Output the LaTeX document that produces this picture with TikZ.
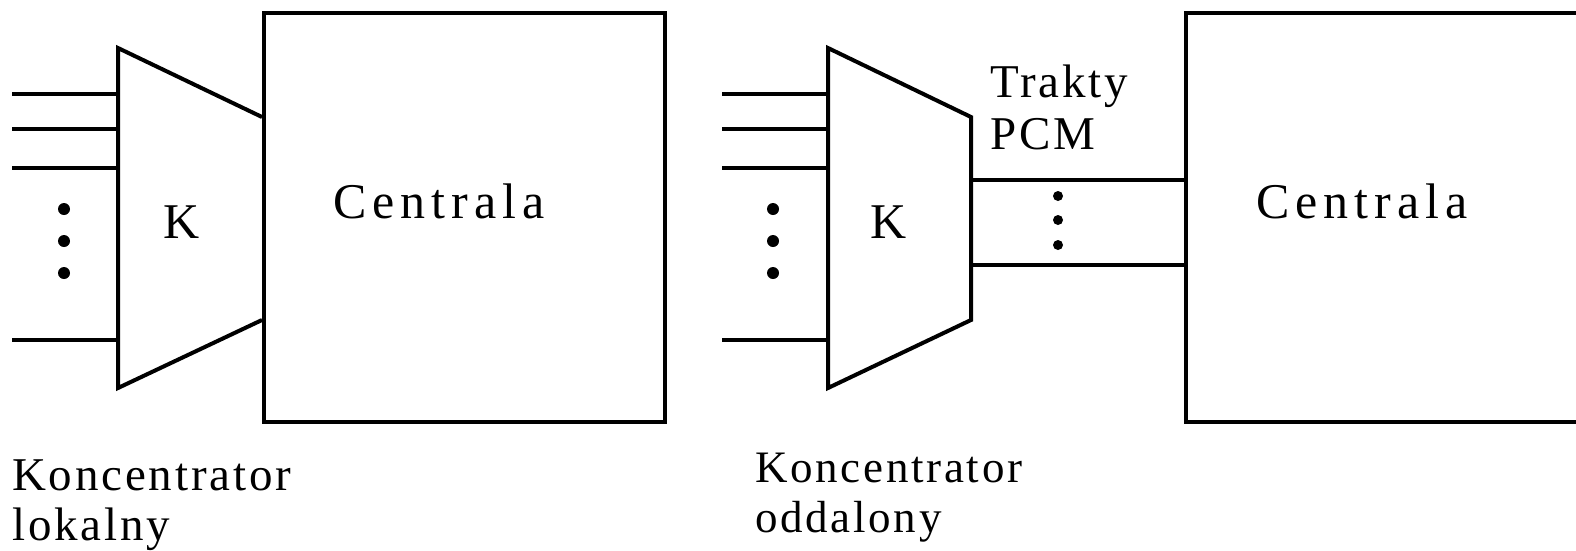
\documentclass[tikz,border=0pt]{standalone}
\usepackage{fontspec}
\setmainfont{Liberation Serif}[LetterSpace=6]
\tikzset{
  ln/.style={line width=4pt, line join=miter},
  lbl/.style={inner sep=0pt, anchor=base west},
  dotf/.style={circle, fill=black, inner sep=0pt, minimum size=12pt},
  big/.style={font=\fontsize{50}{50}\selectfont\addfontfeature{LetterSpace=12}},
}
\begin{document}
\begin{tikzpicture}[x=1pt,y=-1pt]
\useasboundingbox (0,0) rectangle (1576,550);
\begin{scope}
\clip (0,0) rectangle (1576,550);
% ---------- left ----------
\node[draw, ln, minimum width=401pt, minimum height=409pt, inner sep=0pt, anchor=north west] (boxL) at (262,11) {};
\coordinate (tLa) at (118,48);
\coordinate (tLb) at (262,117);
\coordinate (tLc) at (262,320);
\coordinate (tLd) at (118,388);
\draw[ln] (tLb) -- (tLa) -- (tLd) -- (tLc);
\foreach \y/\n in {94/1,129/2,168/3,340/4}{
  \coordinate (inL\n) at (12,\y);
  \coordinate (enL\n) at (118,\y);
  \draw[ln] (inL\n) -- (enL\n);
}
\node[dotf] (dL1) at (64,209) {};
\node[dotf] (dL2) at (64,241) {};
\node[dotf] (dL3) at (64,273) {};
\node[lbl, font=\fontsize{50}{50}\selectfont] (kL) at (163,238) {K};
\node[lbl, big] (cL) at (333,218) {Centrala};
\node[lbl, font=\fontsize{47}{47}\selectfont] (koL) at (12,490) {Koncentrator};
\node[lbl, font=\fontsize{47}{47}\selectfont] (loL) at (12,540) {lokalny};
% ---------- right ----------
\node[draw, ln, minimum width=420pt, minimum height=409pt, inner sep=0pt, anchor=north west] (boxR) at (1184,11) {};
\coordinate (tRa) at (828,48);
\coordinate (tRb) at (971,117);
\coordinate (tRc) at (971,320);
\coordinate (tRd) at (828,388);
\draw[ln] (tRa) -- (tRb) -- (tRc) -- (tRd) -- cycle;
\foreach \y/\n in {94/1,129/2,168/3,340/4}{
  \coordinate (inR\n) at (722,\y);
  \coordinate (enR\n) at (828,\y);
  \draw[ln] (inR\n) -- (enR\n);
}
\coordinate (p1a) at (971,180);
\coordinate (p1b) at (1184,180);
\coordinate (p2a) at (971,265);
\coordinate (p2b) at (1184,265);
\draw[ln] (p1a) -- (p1b) (p2a) -- (p2b);
\node[dotf] (dR1) at (773,209) {};
\node[dotf] (dR2) at (773,241) {};
\node[dotf] (dR3) at (773,273) {};
\node[dotf, minimum size=10pt] (dP1) at (1058,196) {};
\node[dotf, minimum size=10pt] (dP2) at (1058,220) {};
\node[dotf, minimum size=10pt] (dP3) at (1058,245) {};
\node[lbl, font=\fontsize{50}{50}\selectfont] (kR) at (870,238) {K};
\node[lbl, big] (cR) at (1256,218) {Centrala};
\node[lbl, font=\fontsize{47}{47}\selectfont] (tr) at (990,97) {Trakty};
\node[lbl, font=\fontsize{47}{47}\selectfont] (pcm) at (990,149) {PCM};
\node[lbl, font=\fontsize{45}{45}\selectfont] (koR) at (755,482) {Koncentrator};
\node[lbl, font=\fontsize{45}{45}\selectfont] (odR) at (755,532) {oddalony};
\end{scope}
\end{tikzpicture}
\end{document}
